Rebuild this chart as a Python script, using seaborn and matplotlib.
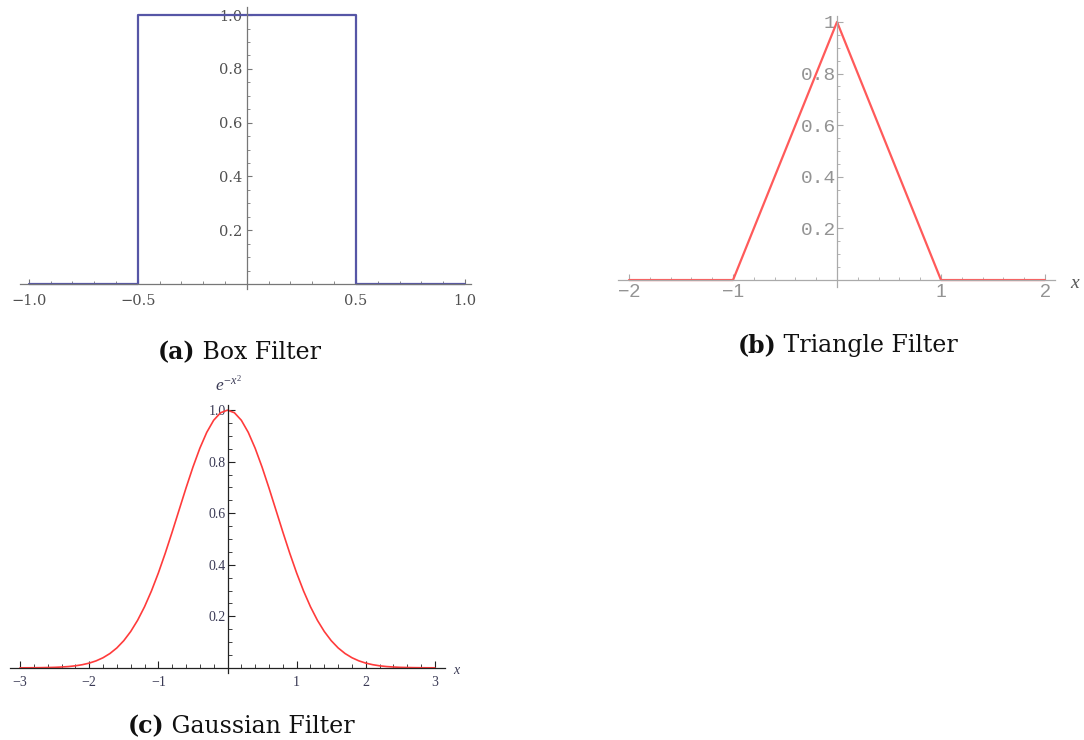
import numpy as np
import pandas as pd
import seaborn as sns
import matplotlib.pyplot as plt
from matplotlib.ticker import MultipleLocator

sns.set_style("white")
plt.rcParams['font.family'] = ['Liberation Serif', 'DejaVu Serif']
plt.rcParams['mathtext.fontset'] = 'custom'
plt.rcParams['mathtext.it'] = 'Liberation Serif:italic'
plt.rcParams['mathtext.rm'] = 'Liberation Serif'

# box filter
box_x = [-1.0, -0.5, -0.5, 0.5, 0.5, 1.0]
box_y = [0.0, 0.0, 1.0, 1.0, 0.0, 0.0]

# triangle filter
tri_x = [-2, -1, 0, 1, 2]
tri_y = [0, 0, 1, 0, 0]

# gaussian e^{-x^2}, sampled every 0.1 from -3 to 3
gauss_x = [round(-3 + 0.1 * i, 1) for i in range(61)]
gauss_y = [0.0001, 0.0002, 0.0004, 0.0007, 0.0012, 0.0019, 0.0032, 0.0050, 0.0079, 0.0122,
           0.0183, 0.0271, 0.0392, 0.0556, 0.0773, 0.1054, 0.1409, 0.1845, 0.2369, 0.2982,
           0.3679, 0.4449, 0.5273, 0.6126, 0.6977, 0.7788, 0.8521, 0.9139, 0.9608, 0.9900,
           1.0,
           0.9900, 0.9608, 0.9139, 0.8521, 0.7788, 0.6977, 0.6126, 0.5273, 0.4449, 0.3679,
           0.2982, 0.2369, 0.1845, 0.1409, 0.1054, 0.0773, 0.0556, 0.0392, 0.0271, 0.0183,
           0.0122, 0.0079, 0.0050, 0.0032, 0.0019, 0.0012, 0.0007, 0.0004, 0.0002, 0.0001]

box_xticks = [-1.0, -0.5, 0.5, 1.0]
box_xlabels = ['\u22121.0', '\u22120.5', '0.5', '1.0']
box_yticks = [0.2, 0.4, 0.6, 0.8, 1.0]
box_ylabels = ['0.2', '0.4', '0.6', '0.8', '1.0']

tri_xticks = [-2, -1, 1, 2]
tri_xlabels = ['\u22122', '\u22121', '1', '2']
tri_yticks = [0.2, 0.4, 0.6, 0.8, 1.0]
tri_ylabels = ['0.2', '0.4', '0.6', '0.8', '1']

gauss_xticks = [-3, -2, -1, 1, 2, 3]
gauss_xlabels = ['\u22123', '\u22122', '\u22121', '1', '2', '3']
gauss_yticks = [0.2, 0.4, 0.6, 0.8, 1.0]
gauss_ylabels = ['0.2', '0.4', '0.6', '0.8', '1.0']

W, H = 1084, 740
fig = plt.figure(figsize=(W / 100, H / 100), dpi=100)


def px_axes(x0, x1, y_top, y_bot):
    return fig.add_axes([x0 / W, 1 - y_bot / H, (x1 - x0) / W, (y_bot - y_top) / H])


def mathematica_axes(ax, axis_color, xlim, ylim, xminor, yminor, major_len, minor_len):
    ax.set_xlim(*xlim)
    ax.set_ylim(*ylim)
    for s in ['top', 'right']:
        ax.spines[s].set_visible(False)
    ax.spines['left'].set_position(('data', 0))
    ax.spines['bottom'].set_position(('data', 0))
    for s in ['left', 'bottom']:
        ax.spines[s].set_color(axis_color)
        ax.spines[s].set_linewidth(0.9)
    ax.xaxis.set_minor_locator(MultipleLocator(xminor))
    ax.yaxis.set_minor_locator(MultipleLocator(yminor))
    ax.tick_params(which='major', direction='in', length=major_len, width=0.8, color=axis_color,
                   bottom=True, left=True)
    ax.tick_params(which='minor', direction='in', length=minor_len, width=0.6, color=axis_color,
                   bottom=True, left=True)
    ax.set_xlabel('')
    ax.set_ylabel('')
    ax.patch.set_alpha(0)


# (a) box filter
ax1 = px_axes(20, 471.5, 7, 289.4)
sns.lineplot(x=box_x, y=box_y, ax=ax1, sort=False, estimator=None, color='#5656a6', linewidth=1.6)
mathematica_axes(ax1, '#777777', (-1.04, 1.03), (-0.02, 1.03), 0.1, 0.05, 3.5, 2.5)
ax1.set_xticks(box_xticks, box_xlabels)
ax1.set_yticks(box_yticks, box_ylabels)
for lab in ax1.get_xticklabels() + ax1.get_yticklabels():
    lab.set_family(['DejaVu Serif'])
ax1.tick_params(axis='both', labelsize=10.5, labelcolor='#505050')
ax1.tick_params(axis='x', pad=7)
ax1.tick_params(axis='y', pad=3)

# (b) triangle filter
ax2 = px_axes(618, 1055, 16, 287)
sns.lineplot(x=tri_x, y=tri_y, ax=ax2, sort=False, estimator=None, color='#ff5a5a', linewidth=1.6)
mathematica_axes(ax2, '#aaaaaa', (-2.106, 2.096), (-0.027, 1.023), 0.2, 0.05, 4, 2.5)
ax2.set_xticks(tri_xticks, tri_xlabels)
ax2.set_yticks(tri_yticks, tri_ylabels)
for lab in ax2.get_yticklabels():
    lab.set_family(['Liberation Mono', 'DejaVu Sans Mono'])
for lab in ax2.get_xticklabels():
    lab.set_family(['Liberation Sans', 'DejaVu Sans'])
ax2.tick_params(axis='both', labelsize=14, labelcolor='#939393', pad=3)
ax2.tick_params(axis='y', pad=1)
fig.text(1075 / W, 1 - 283 / H, 'x', fontsize=14, style='italic', color='#555555',
         ha='center', va='center')

# (c) gaussian filter
ax3 = px_axes(10, 445, 405, 673)
sns.lineplot(x=gauss_x, y=gauss_y, ax=ax3, sort=False, estimator=None, color='#ff3b3b', linewidth=1.2)
mathematica_axes(ax3, '#222222', (-3.145, 3.145), (-0.02, 1.02), 0.2, 0.05, 5, 3)
ax3.set_xticks(gauss_xticks, gauss_xlabels)
ax3.set_yticks(gauss_yticks, gauss_ylabels)
ax3.tick_params(axis='both', labelsize=10, labelcolor='#3a3a55')
ax3.tick_params(axis='x', pad=6)
ax3.tick_params(axis='y', pad=1)
fig.text(456 / W, 1 - 670 / H, 'x', fontsize=10, style='italic', color='#3a3a55',
         ha='center', va='center')
fig.text(228 / W, 1 - 385 / H, r'$e^{-x^2}$', fontsize=12.5, color='#3a3a55',
         ha='center', va='center')


def caption(cx, baseline, tag, name):
    renderer = fig.canvas.get_renderer()
    fam = ['DejaVu Serif']
    t1 = fig.text(0, 1 - baseline / H, tag, fontsize=17, fontweight='bold', va='baseline',
                  family=fam, color='#111111')
    t2 = fig.text(0, 1 - baseline / H, ' ' + name, fontsize=17, va='baseline',
                  family=fam, color='#111111')
    w1 = t1.get_window_extent(renderer).width
    w2 = t2.get_window_extent(renderer).width
    x0 = cx - (w1 + w2) / 2
    t1.set_x(x0 / W)
    t2.set_x((x0 + w1) / W)


caption(239, 359, '(a)', 'Box Filter')
caption(848, 352, '(b)', 'Triangle Filter')
caption(241, 733, '(c)', 'Gaussian Filter')

fig.savefig('out.png', dpi=100)
